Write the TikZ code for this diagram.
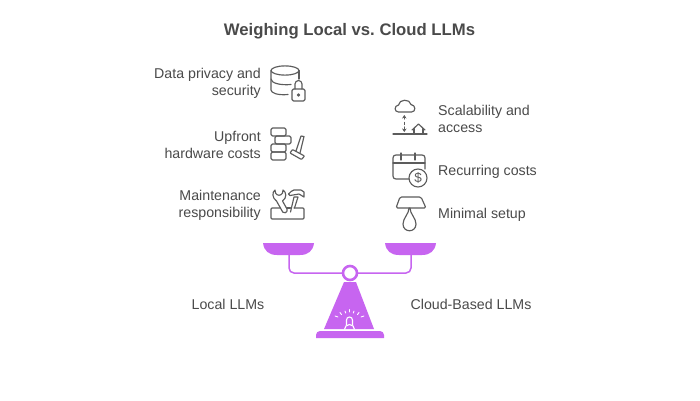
\documentclass[tikz,border=0pt]{standalone}
\usepackage{fontspec}
\usetikzlibrary{arrows.meta}
\setmainfont{Liberation Sans}
\definecolor{txt}{HTML}{4A4A4A}
\definecolor{ico}{HTML}{5C5C5C}
\definecolor{pur}{HTML}{C765F0}
\tikzset{
  lbl/.style={text=txt,font=\fontsize{14.2}{17}\selectfont,inner sep=0pt},
  lblr/.style={lbl,align=right,anchor=east},
  lbll/.style={lbl,align=left,anchor=west},
  ttl/.style={text=txt,font=\bfseries\fontsize{16.7}{20}\selectfont,inner sep=0pt},
  icn/.style={draw=ico,line width=1.15pt,line cap=round,line join=round,fill=none},
  beam/.style={draw=pur,line width=1.5pt,fill=none},
  ray/.style={draw=white,line width=0.9pt,line cap=round}
}
\begin{document}
\begin{tikzpicture}[x=1pt,y=-1pt]
\useasboundingbox[fill=white] (0,0) rectangle (700,400);
\node[ttl] (title) at (349.5,31) {\frenchspacing Weighing Local vs. Cloud LLMs};
\node[lblr] (a1) at (261,83.5) {Data privacy and\\security};
\node[lblr] (a2) at (261,144.5) {Upfront\\hardware costs};
\node[lblr] (a3) at (261,205.5) {Maintenance\\responsibility};
\node[lbll] (b1) at (438,118.5) {Scalability and\\access};
\node[lbll] (b2) at (438,171.5) {Recurring costs};
\node[lbll] (b3) at (438,214.5) {Minimal setup};
\node[lbl] (l) at (228,304) {Local LLMs};
\node[lbl] (r) at (471,304) {Cloud-Based LLMs};
% database
\draw[icn] (285,70.5) ellipse (14 and 4.6);
\draw[icn] (271,70.5) -- (271,90) .. controls (271,93) and (278,95.5) .. (288,94.5);
\draw[icn] (271,79) .. controls (271,83) and (280,85.5) .. (291,84.5);
\draw[icn] (299,70.5) -- (299,79);
\draw[icn,rounded corners=1.5pt] (292,89) rectangle (305,101);
\draw[icn] (295,89) -- (295,84) arc (180:360:3.5) -- (302,89);
\draw[icn] (298.5,95) circle (1.1);
% blocks and hammer
\draw[icn,rounded corners=1.5pt] (271,128) rectangle (286,136);
\draw[icn,rounded corners=1.5pt] (275,136) rectangle (291,144);
\draw[icn,rounded corners=1.5pt] (271,144) rectangle (286,152);
\draw[icn,rounded corners=1.5pt] (271,152) rectangle (286,160);
\draw[icn,rounded corners=0.7pt] (290,153) -- (292.5,149.5) -- (304.5,156) -- (301.5,159.5) -- cycle;
\draw[icn] (296,151) -- (301,136) -- (304,136.5) -- (300,153);
% tools
\draw[icn,rounded corners=1pt] (280.5,208) -- (271,208) -- (271,219) -- (304,219) -- (304,208) -- (294,208);
\draw[icn] (287,208) -- (290.5,208);
\draw[icn] (283,190) .. controls (286.5,192) and (287,198) .. (282.5,201) -- (287,209) .. controls (288.5,213) and (282.5,215) .. (281,209) -- (276.5,201) .. controls (272,198) and (272,192) .. (275,190) -- (275.5,193) .. controls (277,196) and (281,196) .. (282.5,193) -- cycle;
\draw[icn] (290.5,212) -- (294,197) -- (298,197) -- (294.5,208);
\draw[icn] (288.5,194) .. controls (291,192) and (292,190) .. (294,190) -- (301,190) -- (304,192) -- (304,197) -- (299,194) -- (290,195.5) -- cycle;
% cloud
\draw[icn] (398.5,112) .. controls (394,112) and (394,105.5) .. (398.5,105) .. controls (399,99) and (410,98.5) .. (411,104.5) .. controls (416,105) and (416,112) .. (411.5,112) -- cycle;
\draw[icn,-{Stealth[length=3.5pt,width=4.5pt]}] (404.3,119) -- (404.3,115);
\draw[icn] (404.3,122.5) -- (404.3,124.5);
\draw[icn,-{Stealth[length=3.5pt,width=4.5pt]}] (404.3,127) -- (404.3,132);
\draw[icn] (393,134) -- (427,134);
\draw[icn] (412,130) -- (418.5,124) -- (425,130);
\draw[icn] (414,128.5) -- (414,134) (423,128.5) -- (423,134);
% calendar
\draw[icn] (409,179) -- (396,179) .. controls (394,179) and (393,178) .. (393,176) -- (393,158) .. controls (393,156) and (394,155) .. (396,155) -- (422,155) .. controls (424,155) and (425,156) .. (425,158) -- (425,169);
\draw[icn] (393,163) -- (425,163);
\draw[icn] (401,153) -- (401,160) (415,153) -- (415,160);
\draw[icn] (418,178) circle (9);
\node[text=ico,font=\fontsize{13.5}{13.5}\selectfont,inner sep=0pt] (dollar) at (418,178) {\$};
% lamp
\draw[icn,rounded corners=1.5pt] (400,197) -- (421,197) -- (426,208) -- (396,208) -- cycle;
\draw[icn] (409,208) .. controls (409,214) and (403,218) .. (403,224) .. controls (403,233) and (416,233) .. (416,224) .. controls (416,218) and (410,214) .. (410,208);
% scale
\fill[pur] (263,243) -- (314,243) .. controls (313,251) and (308,255) .. (300,255) -- (277,255) .. controls (269,255) and (264,251) .. (263,243) -- cycle;
\fill[pur] (385,243) -- (436,243) .. controls (435,251) and (430,255) .. (422,255) -- (399,255) .. controls (391,255) and (386,251) .. (385,243) -- cycle;
\draw[beam] (342,273) coordinate (bl) -- (294,273) arc (90:180:5) -- (289,255);
\draw[beam] (358,273) coordinate (br) -- (406,273) arc (90:0:5) -- (411,255);
\node[circle,draw=pur,line width=2.6pt,fill=white,minimum size=14pt,inner sep=0pt] (pivot) at (350,273) {};
\fill[pur] (344,282) -- (356,282) -- (374,329) -- (324,329) -- cycle;
\fill[pur] (316,338) -- (316,335) arc (180:270:4) -- (380,331) arc (270:360:4) -- (384,338) -- cycle;
\draw[ray] (335,316) -- (338,317) (340,312.5) -- (341.5,314.5) (345,311) -- (345.7,313) (349.5,309.5) -- (349.5,312) (354,311) -- (353.3,313) (359,312.5) -- (357.5,314.5) (364,316) -- (361,317);
\draw[white,line width=1.1pt] (346.5,325) -- (346.5,320) arc (180:360:3) -- (352.5,325);
\draw[white,line width=1.1pt] (344.5,329.5) arc (180:360:5);
\end{tikzpicture}
\end{document}
